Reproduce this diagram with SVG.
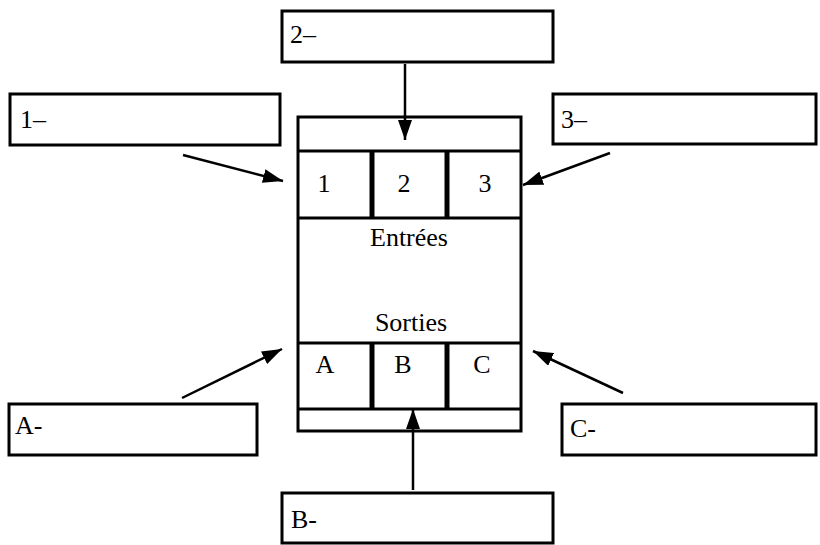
<svg xmlns="http://www.w3.org/2000/svg" width="820" height="545" viewBox="0 0 820 545">
<style>
.box{fill:#fff;stroke:#000;stroke-width:3}
.ln{stroke:#000;stroke-width:3;fill:none}
.div{stroke:#000;stroke-width:5}
.con{stroke:#000;stroke-width:2.5;fill:none;marker-end:url(#ah)}
text{font-family:"Liberation Serif","Times New Roman",serif;font-size:26px;fill:#000}
.c{text-anchor:middle}
</style>
<defs>
<marker id="ah" viewBox="0 0 20 14" refX="20" refY="7" markerWidth="20" markerHeight="14" markerUnits="userSpaceOnUse" orient="auto">
<path d="M0,0 L20,7 L0,14 Z" fill="#000"/>
</marker>
</defs>
<g id="main">
<rect class="box" x="298" y="117" width="223" height="314"/>
<line class="ln" x1="298" y1="151" x2="521" y2="151"/>
<line class="ln" x1="298" y1="218" x2="521" y2="218"/>
<line class="div" x1="372" y1="151" x2="372" y2="218"/>
<line class="div" x1="447" y1="151" x2="447" y2="218"/>
<line class="ln" x1="298" y1="343" x2="521" y2="343"/>
<line class="ln" x1="298" y1="409" x2="521" y2="409"/>
<line class="div" x1="372" y1="343" x2="372" y2="409"/>
<line class="div" x1="447" y1="343" x2="447" y2="409"/>
<text x="324" y="192" class="c">1</text>
<text x="404" y="192" class="c">2</text>
<text x="485" y="192" class="c">3</text>
<text x="409" y="246" class="c">Entrées</text>
<text x="411" y="331" class="c">Sorties</text>
<text x="325" y="373" class="c">A</text>
<text x="403" y="373" class="c">B</text>
<text x="482" y="373" class="c">C</text>
</g>
<g id="n2"><rect class="box" x="282" y="11" width="271" height="51"/><text x="290" y="43">2–</text></g>
<g id="n1"><rect class="box" x="10" y="94" width="270" height="51"/><text x="20" y="128">1–</text></g>
<g id="n3"><rect class="box" x="553" y="94" width="263" height="50"/><text x="561" y="128">3–</text></g>
<g id="nA"><rect class="box" x="9" y="404" width="248" height="51"/><text x="15" y="434">A-</text></g>
<g id="nB"><rect class="box" x="282" y="493" width="271" height="50"/><text x="291" y="528">B-</text></g>
<g id="nC"><rect class="box" x="562" y="404" width="254" height="51"/><text x="570" y="437">C-</text></g>
<g id="connectors">
<line class="con" x1="405" y1="64" x2="405" y2="140"/>
<line class="con" x1="183" y1="155" x2="283" y2="181"/>
<line class="con" x1="610" y1="153" x2="523" y2="185"/>
<line class="con" x1="182" y1="398" x2="282" y2="349"/>
<line class="con" x1="413" y1="490" x2="413" y2="409"/>
<line class="con" x1="623" y1="393" x2="533" y2="351"/>
</g>
</svg>
